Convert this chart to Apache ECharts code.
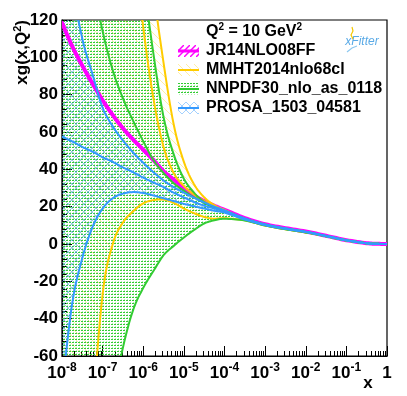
<!DOCTYPE html>
<html>
<head>
    <meta charset="UTF-8">
    <title>xg(x,Q2) at Q2 = 10 GeV2</title>
    <style>html, body { margin: 0; padding: 0; background: #fff; }</style>
</head>
<body>
    <div id="container" style="width: 407px;height: 396px;"></div>
    <script src="https://cdn.jsdelivr.net/npm/echarts@6/dist/echarts.min.js"></script>
    <script type="text/javascript">
        // sampling points, log10(x)
        var xExp = [-8, -7.75, -7.5, -7.25, -7, -6.75, -6.5, -6.25, -6, -5.75, -5.5, -5.25, -5, -4.75, -4.5, -4.25, -4,
            -3.5, -3, -2.5, -2, -1.5, -1, -0.5, -0.25, 0];

        // JR14NLO08FF (band is thinner than the line)
        var jr14 = [118.5, 106, 95.5, 86, 77, 69, 62, 56, 50.5, 45, 39, 34.5, 30, 26, 23, 20.5, 18.3,
            13.9, 10.6, 8.5, 6.7, 4.4, 2.05, 0.45, 0.12, 0];

        // MMHT2014nlo68cl
        var mmhtUp = [1200, 1000, 830, 680, 550, 440, 345, 265, 198, 138, 97, 64, 44, 32, 25, 20.8, 18.2,
            13.5, 10.4, 8.3, 6.5, 4.3, 2.0, 0.42, 0.1, 0];
        var mmhtMid = [900, 740, 600, 480, 375, 290, 222, 165, 116, 78, 52, 38, 31, 26.5, 23, 20.3, 18,
            13.1, 10.1, 8.1, 6.35, 4.2, 1.95, 0.4, 0.1, 0];
        var mmhtLow = [-480, -330, -200, -95, -27, 0, 11.5, 17.5, 21.8, 23.5, 23.8, 22, 19, 16.5, 14.5, 13.5, 13.8,
            12.7, 9.9, 7.9, 6.2, 4.1, 1.9, 0.38, 0.09, 0];

        // NNPDF30_nlo_as_0118
        var nnpdfUp = [1070, 870, 700, 560, 440, 340, 260, 195, 143, 102, 68, 48, 35, 27.5, 22.5, 19.5, 17.8,
            13.6, 10.4, 8.3, 6.5, 4.3, 2.0, 0.42, 0.1, 0];
        var nnpdfMid = [285, 225, 178, 142, 114, 93, 78, 66, 55, 45, 38, 32.5, 28.5, 25, 22, 19.5, 17.5,
            13.2, 10.2, 8.1, 6.35, 4.2, 1.95, 0.4, 0.1, 0];
        var nnpdfLow = [-370, -290, -220, -165, -120, -84, -55.5, -35.4, -23.5, -14.5, -6, -1, 3.5, 7.5, 11, 12.7, 13.5,
            12.6, 9.9, 7.9, 6.2, 4.1, 1.9, 0.38, 0.09, 0];

        // PROSA_1503_04581
        var prosaUp = [190, 140, 110, 91, 73, 63, 55.5, 49, 43.5, 38.5, 34, 30.5, 27.5, 24.8, 22.3, 20, 18,
            13.7, 10.5, 8.4, 6.6, 4.35, 2.05, 0.43, 0.12, 0];
        var prosaMid = [57.5, 55, 52, 49.5, 46.5, 44, 41, 38.5, 35.5, 33, 30.5, 27.5, 25, 22.5, 20.5, 19, 17.6,
            13.4, 10.3, 8.25, 6.5, 4.3, 2.0, 0.42, 0.11, 0];
        var prosaLow = [-78, -32, -7.5, 9, 19, 24.5, 27, 27.8, 27.3, 26, 24.5, 23, 21.5, 20.2, 19, 17.8, 16.8,
            13.1, 10.1, 8.1, 6.4, 4.2, 1.95, 0.4, 0.1, 0];

        var xMajor = [1e-8, 1e-7, 1e-6, 1e-5, 1e-4, 1e-3, 1e-2, 1e-1, 1];
        var legendNames = ['JR14NLO08FF', 'MMHT2014nlo68cl', 'NNPDF30_nlo_as_0118', 'PROSA_1503_04581'];

        var FONT = "'Liberation Sans', Arial, Helvetica, sans-serif";
        var C_MAG = '#ff00ff', C_YEL = '#ffcc00', C_GRN = '#33cc33', C_BLU = '#3399ff';

        var xMinor = [];
        for (var d = -8; d < 0; d++) {
            for (var k = 2; k <= 9; k++) xMinor.push(k * Math.pow(10, d));
        }

        function makePattern(w, h, draw) {
            var c = document.createElement('canvas');
            c.width = w; c.height = h;
            draw(c.getContext('2d'));
            return { image: c, repeat: 'repeat' };
        }
        var patGreen = makePattern(3, 3, function (g) {
            g.fillStyle = C_GRN;
            g.fillRect(0, 0, 2, 1);
            g.globalAlpha = 0.35;
            g.fillRect(1, 2, 1, 1);
        });
        var patBlue = makePattern(8, 8, function (g) {
            g.strokeStyle = C_BLU; g.globalAlpha = 0.45; g.lineWidth = 1;
            g.beginPath(); g.moveTo(0, 0); g.lineTo(8, 8); g.moveTo(8, 0); g.lineTo(0, 8); g.stroke();
        });
        var patYellow = makePattern(8, 8, function (g) {
            g.strokeStyle = C_YEL; g.globalAlpha = 0.35; g.lineWidth = 1;
            g.beginPath(); g.moveTo(0, 0); g.lineTo(8, 8); g.stroke();
        });
        var patMag = makePattern(6, 6, function (g) {
            g.strokeStyle = C_MAG; g.lineWidth = 1.5;
            g.beginPath(); g.moveTo(0, 6); g.lineTo(6, 0); g.stroke();
        });

        // Catmull-Rom through the pixel points, only for drawing
        function spline(p) {
            var out = [];
            for (var i = 0; i < p.length - 1; i++) {
                var p0 = p[Math.max(i - 1, 0)], p1 = p[i], p2 = p[i + 1], p3 = p[Math.min(i + 2, p.length - 1)];
                for (var s = 0; s < 8; s++) {
                    var t = s / 8, t2 = t * t, t3 = t2 * t;
                    var pt = [];
                    for (var j = 0; j < 2; j++) {
                        pt.push(0.5 * (2 * p1[j] + (-p0[j] + p2[j]) * t + (2 * p0[j] - 5 * p1[j] + 4 * p2[j] - p3[j]) * t2 +
                            (-p0[j] + 3 * p1[j] - 3 * p2[j] + p3[j]) * t3));
                    }
                    out.push(pt);
                }
            }
            out.push(p[p.length - 1]);
            return out;
        }

        function toPixels(api, vals) {
            return xExp.map(function (e, i) { return api.coord([Math.pow(10, e), vals[i]]); });
        }

        function clipOf(params) {
            var cs = params.coordSys;
            return { type: 'rect', shape: { x: cs.x, y: cs.y, width: cs.width, height: cs.height } };
        }

        function bandSeries(name, up, low, pattern) {
            return {
                type: 'custom', name: name, data: [[1e-4, 0]], clip: true, silent: true, z: 2,
                renderItem: function (params, api) {
                    var top = spline(toPixels(api, up));
                    var bot = spline(toPixels(api, low)).reverse();
                    return {
                        type: 'polygon', clipPath: clipOf(params),
                        shape: { points: top.concat(bot) },
                        style: { fill: pattern, stroke: null }
                    };
                }
            };
        }

        function lineSeries(name, curves, color, width, z) {
            return {
                type: 'custom', name: name, data: [[1e-4, 0]], clip: true, silent: true, z: z,
                renderItem: function (params, api) {
                    return {
                        type: 'group', clipPath: clipOf(params),
                        children: curves.map(function (vals) {
                            return {
                                type: 'polyline',
                                shape: { points: spline(toPixels(api, vals)) },
                                style: { stroke: color, lineWidth: width, fill: null, lineJoin: 'round', lineCap: 'round' }
                            };
                        })
                    };
                }
            };
        }

        // legend drawn as graphic elements
        var legendY = [51, 70, 89, 108];
        var legendPats = [patMag, patYellow, patGreen, patBlue];
        var legendCols = [C_MAG, C_YEL, C_GRN, C_BLU];
        var graphics = [];
        legendNames.forEach(function (n, i) {
            graphics.push({
                type: 'rect', left: 178, top: legendY[i] - 6, shape: { width: 21, height: 12 },
                style: { fill: legendPats[i] }
            });
            graphics.push({
                type: 'line', shape: { x1: 178, y1: legendY[i], x2: 199, y2: legendY[i] },
                style: { stroke: legendCols[i], lineWidth: i === 0 ? 3 : 2 }
            });
            graphics.push({
                type: 'text', x: 206, y: legendY[i],
                style: { text: n, font: 'bold 16px ' + FONT, fill: '#000', verticalAlign: 'middle' }
            });
        });
        graphics.push({
            type: 'text', x: 206, y: 32,
            style: {
                text: '{a|Q}{s|2}{a| = 10 GeV}{s|2}', verticalAlign: 'middle',
                rich: {
                    a: { font: 'bold 16px ' + FONT, fill: '#000', lineHeight: 20 },
                    s: { font: 'bold 10px ' + FONT, fill: '#000', verticalAlign: 'top', lineHeight: 12 }
                }
            }
        });
        // xFitter logo
        graphics.push({
            type: 'text', x: 362, y: 42,
            style: { text: 'xFitter', font: 'italic 12px ' + FONT, fill: '#5aaae6', align: 'center', verticalAlign: 'middle' }
        });
        graphics.push({
            type: 'polyline', shape: { points: [[352, 27], [353, 31], [351, 35], [353, 39]] },
            style: { stroke: '#f5c800', lineWidth: 1.2, fill: null }
        });
        graphics.push({
            type: 'polyline', shape: { points: [[347, 52], [352, 48], [357, 46]] },
            style: { stroke: '#8cc8f0', lineWidth: 1.2, fill: null }
        });
        // axis titles
        graphics.push({
            type: 'text', x: 22, y: 20, rotation: Math.PI / 2,
            style: {
                text: '{a|xg(x,Q}{s|2}{a|)}', align: 'right', verticalAlign: 'middle',
                rich: {
                    a: { font: 'bold 17px ' + FONT, fill: '#000', lineHeight: 20 },
                    s: { font: 'bold 11px ' + FONT, fill: '#000', verticalAlign: 'top', lineHeight: 12 }
                }
            }
        });
        graphics.push({
            type: 'text', x: 368, y: 383,
            style: { text: 'x', font: 'bold 17px ' + FONT, fill: '#000', align: 'center', verticalAlign: 'middle' }
        });

        var myChart = echarts.init(document.getElementById('container'), null, { renderer: 'canvas' });
        var option = {
            animation: false,
            backgroundColor: '#fff',
            grid: {
                left: 62, top: 20, right: 20, bottom: 40, outerBoundsMode: 'none',
                show: true, borderColor: '#000', borderWidth: 1.2, backgroundColor: 'transparent'
            },
            xAxis: [{
                type: 'log', logBase: 10, min: 1e-8, max: 1, position: 'bottom',
                axisLine: { onZero: false, lineStyle: { color: '#000', width: 1.2 } },
                axisTick: { inside: true, length: 10, customValues: xMajor, lineStyle: { color: '#000' } },
                splitLine: { show: false },
                axisLabel: {
                    customValues: xMajor, margin: 6,
                    formatter: function (v) {
                        var e = Math.round(Math.log(v) / Math.LN10);
                        return e === 0 ? '{b|1}' : '{b|10}{s|' + e + '}';
                    },
                    rich: {
                        b: { fontFamily: FONT, fontWeight: 'bold', fontSize: 17, color: '#000', lineHeight: 22 },
                        s: { fontFamily: FONT, fontWeight: 'bold', fontSize: 12, color: '#000', verticalAlign: 'top', lineHeight: 12 }
                    }
                }
            }, {
                type: 'log', logBase: 10, min: 1e-8, max: 1, position: 'bottom',
                axisLine: { show: false, onZero: false },
                axisTick: { inside: true, length: 5, customValues: xMinor, lineStyle: { color: '#000' } },
                axisLabel: { show: false },
                splitLine: { show: false }
            }],
            yAxis: {
                type: 'value', min: -60, max: 120, interval: 20,
                axisLine: { show: true, onZero: false, lineStyle: { color: '#000', width: 1.2 } },
                axisTick: { inside: true, length: 10, lineStyle: { color: '#000' } },
                minorTick: { show: true, splitNumber: 5, length: 5, lineStyle: { color: '#000' } },
                splitLine: { show: false },
                axisLabel: { fontFamily: FONT, fontWeight: 'bold', fontSize: 17, color: '#000', margin: 4 }
            },
            graphic: { elements: graphics },
            series: [
                bandSeries('MMHT2014nlo68cl', mmhtUp, mmhtLow, patYellow),
                bandSeries('NNPDF30_nlo_as_0118', nnpdfUp, nnpdfLow, patGreen),
                bandSeries('PROSA_1503_04581', prosaUp, prosaLow, patBlue),
                lineSeries('JR14NLO08FF', [jr14], C_MAG, 4, 3),
                lineSeries('MMHT2014nlo68cl', [mmhtUp, mmhtMid, mmhtLow], C_YEL, 2, 4),
                lineSeries('NNPDF30_nlo_as_0118', [nnpdfUp, nnpdfMid, nnpdfLow], C_GRN, 2, 5),
                lineSeries('PROSA_1503_04581', [prosaUp, prosaMid, prosaLow], C_BLU, 2, 6)
            ]
        };
        myChart.setOption(option);
    </script>
</body>
</html>
